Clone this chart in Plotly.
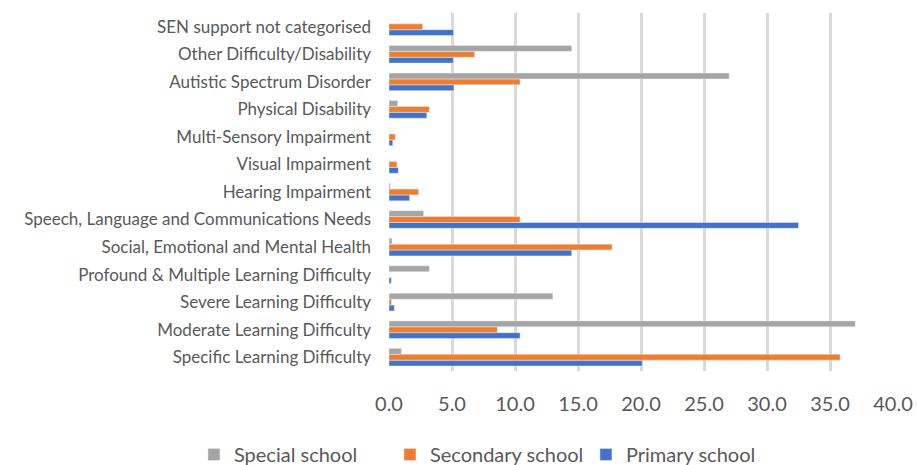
import plotly.graph_objects as go

categories = [
    "Specific Learning Difficulty",
    "Moderate Learning Difficulty",
    "Severe Learning Difficulty",
    "Profound & Multiple Learning Difficulty",
    "Social, Emotional and Mental Health",
    "Speech, Language and Communications Needs",
    "Hearing Impairment",
    "Visual Impairment",
    "Multi-Sensory Impairment",
    "Physical Disability",
    "Autistic Spectrum Disorder",
    "Other Difficulty/Disability",
    "SEN support not categorised",
]
primary = [20.1, 10.4, 0.42, 0.18, 14.5, 32.5, 1.64, 0.74, 0.3, 3.0, 5.15, 5.1, 5.12]
secondary = [35.8, 8.6, 0.2, 0.0, 17.7, 10.4, 2.35, 0.63, 0.5, 3.2, 10.4, 6.8, 2.67]
special = [0.98, 37.0, 13.0, 3.2, 0.24, 2.75, 0.1, 0.0, 0.0, 0.69, 27.0, 14.5, 0.0]
tick_vals = [0, 5, 10, 15, 20, 25, 30, 35, 40]
tick_text = [f"{v:.1f}" for v in tick_vals]

font = "Lato, 'Open Sans', sans-serif"

fig = go.Figure()
fig.add_trace(go.Bar(y=categories, x=primary, name="Primary school", orientation="h",
                     marker_color="#4472C4"))
fig.add_trace(go.Bar(y=categories, x=secondary, name="Secondary school", orientation="h",
                     marker_color="#ED7D31"))
fig.add_trace(go.Bar(y=categories, x=special, name="Special school", orientation="h",
                     marker_color="#A5A5A5"))

fig.update_layout(
    width=917, height=465,
    margin=dict(l=389, r=24, t=13, b=94, autoexpand=False),
    plot_bgcolor="white", paper_bgcolor="white",
    barmode="group", bargap=0.36, bargroupgap=0,
    font=dict(family=font, color="#595959"),
    showlegend=True,
    legend=dict(orientation="h", traceorder="reversed",
                x=-0.387, xanchor="left", y=-0.2876, yanchor="bottom",
                font=dict(size=20, color="#595959"),
                itemwidth=30, tracegroupgap=0,
                entrywidth=151, entrywidthmode="pixels"),
)
fig.update_xaxes(range=[0, 40], tickvals=tick_vals, ticktext=tick_text,
                 showgrid=True, gridcolor="#D9D9D9", gridwidth=2.5,
                 tickfont=dict(size=20, color="#595959"), zeroline=False,
                 showline=False, ticks="", ticklabelstandoff=19, automargin=False)
fig.update_yaxes(categoryorder="array", categoryarray=categories,
                 tickfont=dict(size=17, color="#595959"), showgrid=False,
                 ticks="", ticklabelstandoff=17, showline=False, automargin=False)

fig.write_html(
    "out.html",
    config={"displayModeBar": False},
    post_script="document.body.style.margin='0';document.body.style.overflow='hidden';",
)
